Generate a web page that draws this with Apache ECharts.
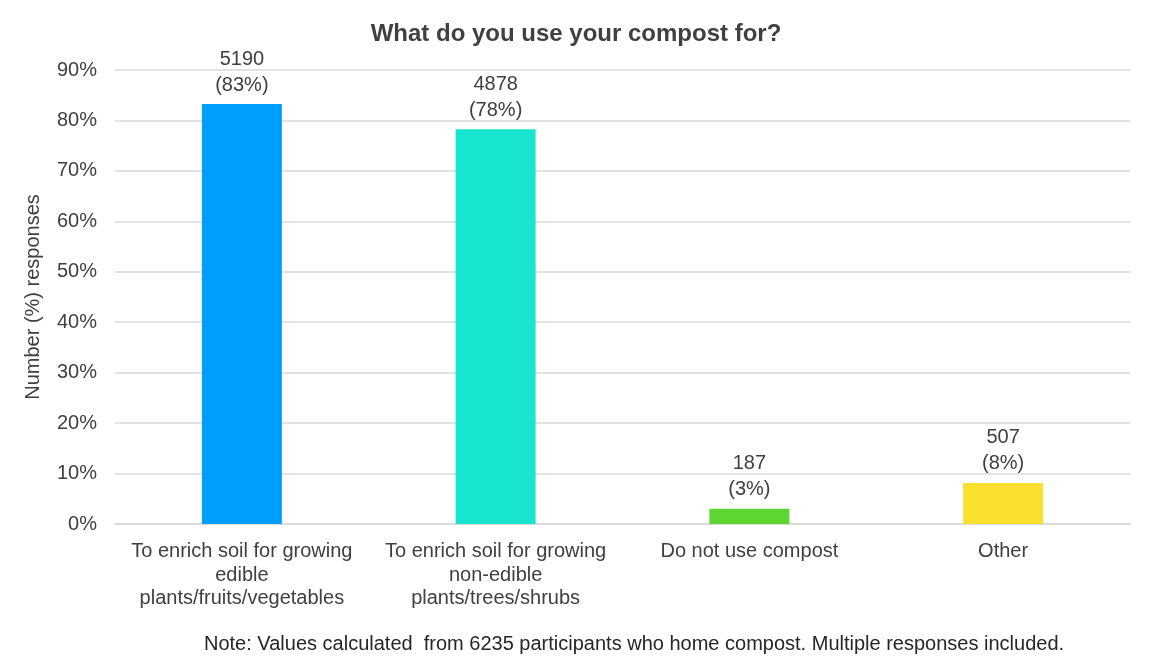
<!DOCTYPE html>
<html>
<head>
<meta charset="utf-8">
<script src="https://cdn.jsdelivr.net/npm/echarts@6/dist/echarts.min.js"></script>
<style>
html,body{margin:0;padding:0;background:#fff;}
#chart{width:1152px;height:664px;}
</style>
</head>
<body>
<div id="chart"></div>
<script>
const categories = [
  'To enrich soil for growing\nedible\nplants/fruits/vegetables',
  'To enrich soil for growing\nnon-edible\nplants/trees/shrubs',
  'Do not use compost',
  'Other'
];
const counts = [5190, 4878, 187, 507];
const totalParticipants = 6235;
const barColors = ['#009EFF', '#18E5CF', '#5DD532', '#F9E02F'];
const yTicks = [0, 10, 20, 30, 40, 50, 60, 70, 80, 90];

const percents = counts.map(c => c / totalParticipants * 100);
const font = '"Liberation Sans", Arial, Helvetica, sans-serif';

const chart = echarts.init(document.getElementById('chart'), null, {renderer: 'canvas'});
chart.setOption({
  animation: false,
  textStyle: {fontFamily: font},
  title: {
    text: 'What do you use your compost for?',
    left: 'center',
    top: 17,
    textStyle: {fontFamily: font, fontSize: 24, fontWeight: 'bold', color: '#404040'}
  },
  graphic: [{
    type: 'text',
    left: 204,
    top: 634,
    style: {
      text: 'Note: Values calculated  from 6235 participants who home compost. Multiple responses included.',
      font: '20px ' + font,
      fill: '#262626'
    }
  }],
  grid: {left: 115, right: 22, top: 70, bottom: 140},
  xAxis: {
    type: 'category',
    data: categories,
    axisLine: {lineStyle: {color: '#d9d9d9', width: 1.5}},
    axisTick: {show: false},
    axisLabel: {
      interval: 0,
      margin: 16,
      fontSize: 20,
      lineHeight: 23.5,
      color: '#404040',
      fontFamily: font
    }
  },
  yAxis: {
    type: 'value',
    min: yTicks[0],
    max: yTicks[yTicks.length - 1],
    interval: 10,
    name: 'Number (%) responses',
    nameLocation: 'middle',
    nameGap: 72,
    nameTextStyle: {fontSize: 20, color: '#404040', fontFamily: font},
    axisLine: {show: false},
    axisTick: {show: false},
    axisLabel: {formatter: '{value}%', fontSize: 20, color: '#404040', margin: 18, fontFamily: font},
    splitLine: {lineStyle: {color: '#d9d9d9', width: 1.5}}
  },
  series: [{
    type: 'bar',
    barWidth: 80,
    data: percents.map((p, i) => ({value: p, itemStyle: {color: barColors[i]}})),
    label: {
      show: true,
      position: 'top',
      distance: 6,
      fontSize: 20,
      lineHeight: 26,
      color: '#404040',
      fontFamily: font,
      formatter: p => counts[p.dataIndex] + '\n(' + Math.round(percents[p.dataIndex]) + '%)'
    }
  }]
});
</script>
</body>
</html>
